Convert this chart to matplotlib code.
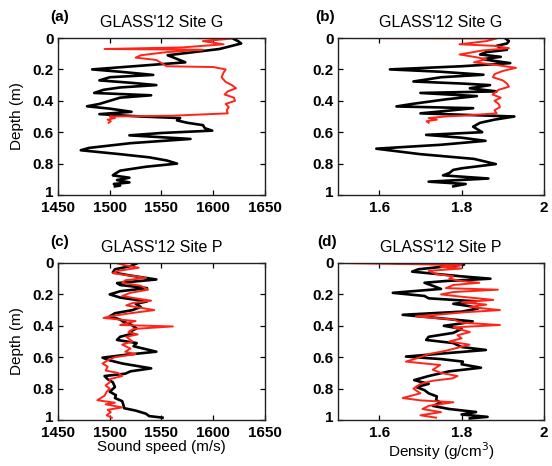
import matplotlib
matplotlib.use("Agg")
import matplotlib.pyplot as plt
from matplotlib.ticker import FixedLocator, FixedFormatter

plt.rcParams['font.family'] = ['Liberation Sans', 'DejaVu Sans']

# ---------------- data ----------------
# Panel (a): Site G sound speed (m/s)
a_black_depth = [0.0, 0.02, 0.035, 0.07, 0.11, 0.12, 0.155, 0.20, 0.215, 0.235, 0.25, 0.27, 0.285,
                 0.30, 0.315, 0.33, 0.35, 0.365, 0.38, 0.40, 0.42, 0.435, 0.45, 0.47, 0.485, 0.50,
                 0.51, 0.525, 0.54, 0.555, 0.575, 0.59, 0.605, 0.62, 0.643, 0.67, 0.70, 0.715, 0.74,
                 0.76, 0.78, 0.80, 0.82, 0.845, 0.865, 0.875, 0.89, 0.905, 0.92, 0.93, 0.94, 0.945]
a_black_speed = [1618, 1624, 1627, 1606, 1556, 1560, 1573, 1483, 1510, 1542, 1500, 1490, 1520,
                 1545, 1510, 1494, 1485, 1540, 1510, 1500, 1490, 1478, 1500, 1521, 1490, 1530,
                 1568, 1565, 1575, 1590, 1592, 1599, 1550, 1519, 1578, 1520, 1480, 1472, 1510,
                 1538, 1555, 1565, 1535, 1510, 1505, 1503, 1519, 1507, 1519, 1504, 1510, 1505]
a_red_depth = [0.0, 0.004, 0.02, 0.04, 0.06, 0.07, 0.075, 0.09, 0.11, 0.125, 0.14, 0.16, 0.18,
               0.185, 0.20, 0.22, 0.25, 0.28, 0.30, 0.32, 0.34, 0.36, 0.38, 0.40, 0.42, 0.44,
               0.46, 0.48, 0.495, 0.50, 0.51, 0.52, 0.53, 0.54]
a_red_speed = [1572, 1618, 1590, 1610, 1570, 1495, 1590, 1555, 1530, 1525, 1545, 1550, 1555,
               1600, 1612, 1610, 1608, 1612, 1618, 1622, 1614, 1611, 1620, 1621, 1612, 1615,
               1613, 1614, 1560, 1500, 1505, 1498, 1501, 1499]

# Panel (b): Site G density (g/cm3)
b_black_depth = [0.0, 0.02, 0.035, 0.05, 0.075, 0.09, 0.105, 0.12, 0.135, 0.16, 0.18, 0.20, 0.215,
                 0.234, 0.25, 0.277, 0.29, 0.30, 0.32, 0.34, 0.35, 0.37, 0.39, 0.42, 0.436, 0.447,
                 0.465, 0.48, 0.50, 0.52, 0.54, 0.565, 0.60, 0.617, 0.635, 0.655, 0.68, 0.705,
                 0.74, 0.77, 0.803, 0.83, 0.84, 0.86, 0.875, 0.895, 0.915, 0.93, 0.945]
b_black_dens = [1.905, 1.915, 1.91, 1.885, 1.91, 1.86, 1.845, 1.895, 1.85, 1.918, 1.80, 1.626, 1.75,
                1.853, 1.75, 1.683, 1.80, 1.869, 1.82, 1.885, 1.70, 1.837, 1.764, 1.68, 1.642, 1.828,
                1.76, 1.70, 1.928, 1.88, 1.845, 1.828, 1.85, 1.714, 1.80, 1.858, 1.75, 1.593,
                1.70, 1.83, 1.883, 1.80, 1.78, 1.77, 1.755, 1.865, 1.72, 1.81, 1.78]
b_red_depth = [0.0, 0.003, 0.02, 0.04, 0.05, 0.065, 0.08, 0.105, 0.12, 0.135, 0.155, 0.17, 0.19,
               0.21, 0.23, 0.25, 0.27, 0.29, 0.31, 0.33, 0.36, 0.38, 0.40, 0.42, 0.44, 0.46, 0.48,
               0.495, 0.50, 0.51, 0.52, 0.53, 0.54]
b_red_dens = [1.50, 1.885, 1.86, 1.795, 1.88, 1.915, 1.85, 1.795, 1.83, 1.86, 1.83, 1.88, 1.932,
              1.90, 1.88, 1.876, 1.90, 1.91, 1.915, 1.89, 1.875, 1.895, 1.88, 1.89, 1.893, 1.88, 1.885,
              1.80, 1.76, 1.72, 1.74, 1.715, 1.72]

# Panel (c): Site P sound speed (m/s)
c_black_depth = [0.0, 0.02, 0.04, 0.06, 0.08, 0.105, 0.128, 0.14, 0.16, 0.18, 0.20, 0.22, 0.245,
                 0.26, 0.28, 0.30, 0.32, 0.34, 0.36, 0.374, 0.39, 0.417, 0.435, 0.45, 0.47, 0.49,
                 0.51, 0.53, 0.565, 0.585, 0.603, 0.62, 0.64, 0.671, 0.69, 0.705, 0.72, 0.74, 0.76,
                 0.79, 0.82, 0.842, 0.86, 0.88, 0.90, 0.925, 0.94, 0.96, 0.975, 0.985]
c_black_speed = [1527, 1520, 1505, 1503, 1520, 1545, 1507, 1510, 1536, 1510, 1500, 1510, 1536,
                 1525, 1530, 1522, 1505, 1500, 1510, 1513, 1520, 1526, 1520, 1522, 1510, 1507,
                 1526, 1523, 1545, 1515, 1493, 1500, 1512, 1540, 1520, 1515, 1495, 1498, 1503,
                 1505, 1500, 1506, 1505, 1512, 1513, 1514, 1525, 1535, 1538, 1551]
c_red_depth = [0.0, 0.015, 0.03, 0.05, 0.065, 0.08, 0.095, 0.11, 0.126, 0.145, 0.17, 0.19, 0.21,
               0.225, 0.24, 0.255, 0.27, 0.285, 0.30, 0.32, 0.34, 0.35, 0.37, 0.385, 0.395, 0.404,
               0.42, 0.44, 0.455, 0.47, 0.49, 0.50, 0.52, 0.545, 0.565, 0.58, 0.60, 0.62, 0.64,
               0.66, 0.685, 0.70, 0.72, 0.74, 0.76, 0.78, 0.80, 0.82, 0.845, 0.874, 0.89, 0.90,
               0.92, 0.935, 0.95, 0.97, 0.985]
c_red_speed = [1506, 1515, 1528, 1508, 1503, 1520, 1535, 1515, 1512, 1530, 1537, 1520, 1512,
               1525, 1540, 1522, 1516, 1530, 1543, 1520, 1500, 1494, 1525, 1515, 1510, 1561,
               1523, 1518, 1527, 1516, 1520, 1522, 1512, 1520, 1515, 1525, 1505, 1498, 1493,
               1498, 1496, 1508, 1512, 1500, 1500, 1496, 1500, 1497, 1495, 1488, 1505, 1496,
               1512, 1498, 1501, 1497, 1502]

# Panel (d): Site P density (g/cm3)
d_black_depth = [0.0, 0.01, 0.025, 0.04, 0.055, 0.07, 0.085, 0.10, 0.115, 0.126, 0.145, 0.165,
                 0.19, 0.21, 0.225, 0.244, 0.26, 0.275, 0.29, 0.31, 0.33, 0.35, 0.372, 0.385,
                 0.40, 0.42, 0.445, 0.47, 0.49, 0.51, 0.535, 0.554, 0.575, 0.596, 0.612, 0.628,
                 0.645, 0.667, 0.69, 0.72, 0.746, 0.77, 0.79, 0.81, 0.83, 0.85, 0.874, 0.89,
                 0.91, 0.93, 0.949, 0.965, 0.98, 0.99]
d_black_dens = [1.64, 1.806, 1.75, 1.695, 1.68, 1.74, 1.80, 1.87, 1.76, 1.71, 1.73, 1.75,
                1.633, 1.71, 1.72, 1.835, 1.78, 1.82, 1.84, 1.80, 1.657, 1.74, 1.827, 1.80,
                1.757, 1.80, 1.78, 1.72, 1.714, 1.78, 1.80, 1.859, 1.76, 1.665, 1.75, 1.803,
                1.80, 1.847, 1.77, 1.72, 1.685, 1.72, 1.69, 1.71, 1.72, 1.74, 1.738, 1.75,
                1.73, 1.77, 1.835, 1.80, 1.863, 1.82]
d_red_depth = [0.0, 0.005, 0.012, 0.025, 0.035, 0.05, 0.07, 0.085, 0.10, 0.115, 0.126, 0.14,
               0.16, 0.17, 0.185, 0.20, 0.215, 0.235, 0.25, 0.265, 0.28, 0.30, 0.315, 0.33,
               0.34, 0.36, 0.38, 0.395, 0.41, 0.425, 0.44, 0.46, 0.48, 0.50, 0.52, 0.54, 0.56,
               0.58, 0.60, 0.628, 0.65, 0.68, 0.70, 0.72, 0.735, 0.75, 0.77, 0.80, 0.83, 0.86,
               0.875, 0.887, 0.91, 0.93, 0.95, 0.97, 0.985]
d_red_dens = [1.50, 1.62, 1.80, 1.75, 1.80, 1.72, 1.738, 1.78, 1.77, 1.80, 1.843, 1.78,
              1.762, 1.888, 1.78, 1.75, 1.80, 1.877, 1.80, 1.86, 1.82, 1.893, 1.80, 1.74,
              1.689, 1.78, 1.80, 1.893, 1.78, 1.80, 1.82, 1.79, 1.80, 1.77, 1.819, 1.79, 1.76,
              1.72, 1.70, 1.665, 1.748, 1.73, 1.75, 1.79, 1.778, 1.73, 1.70, 1.683, 1.70, 1.657,
              1.70, 1.78, 1.72, 1.705, 1.75, 1.70, 1.738]

titles = ["GLASS'12 Site G", "GLASS'12 Site G", "GLASS'12 Site P", "GLASS'12 Site P"]
panel_labels = ["(a)", "(b)", "(c)", "(d)"]
speed_ticks = [1450, 1500, 1550, 1600, 1650]
speed_ticklabels = ["1450", "1500", "1550", "1600", "1650"]
dens_ticks = [1.6, 1.8, 2.0]
dens_ticklabels = ["1.6", "1.8", "2"]
depth_ticks = [0, 0.2, 0.4, 0.6, 0.8, 1.0]
depth_ticklabels = ["0", "0.2", "0.4", "0.6", "0.8", "1"]

# ---------------- figure ----------------
W, H = 552, 466
fig = plt.figure(figsize=(W / 100, H / 100), dpi=100)

def ax_at(x0, y0, x1, y1):
    return fig.add_axes([x0 / W, 1 - y1 / H, (x1 - x0) / W, (y1 - y0) / H])

axes = [ax_at(58, 38, 265, 195), ax_at(338, 38, 544, 195),
        ax_at(58, 263, 265, 420), ax_at(338, 263, 544, 420)]

series = [
    (a_black_speed, a_black_depth, a_red_speed, a_red_depth),
    (b_black_dens, b_black_depth, b_red_dens, b_red_depth),
    (c_black_speed, c_black_depth, c_red_speed, c_red_depth),
    (d_black_dens, d_black_depth, d_red_dens, d_red_depth),
]

for i, ax in enumerate(axes):
    bx, by, rx, ry = series[i]
    ax.plot(bx, by, color='black', lw=1.9, solid_joinstyle='round')
    ax.plot(rx, ry, color='#ff2418', lw=1.4, solid_joinstyle='round')
    ax.set_ylim(1, 0)
    if i % 2 == 0:
        ax.set_xlim(1450, 1650)
        ax.xaxis.set_major_locator(FixedLocator(speed_ticks))
        ax.xaxis.set_major_formatter(FixedFormatter(speed_ticklabels))
        ax.set_ylabel("Depth (m)", fontsize=11, labelpad=6)
    else:
        ax.set_xlim(1.5, 2.0)
        ax.xaxis.set_major_locator(FixedLocator(dens_ticks))
        ax.xaxis.set_major_formatter(FixedFormatter(dens_ticklabels))
    # all depth labels except the last one go on regular ticks;
    # the bottom "1" is drawn nudged up a little so it clears the x labels
    ax.yaxis.set_major_locator(FixedLocator(depth_ticks))
    ax.yaxis.set_major_formatter(FixedFormatter(depth_ticklabels[:-1] + [""]))
    ax.annotate(depth_ticklabels[-1], xy=(0, depth_ticks[-1]),
                xycoords=('axes fraction', 'data'), xytext=(-3, 2.5),
                textcoords='offset points', ha='right', va='center_baseline',
                fontsize=11, fontweight='bold', annotation_clip=False)
    ax.tick_params(direction='in', top=True, right=True, length=3.5, width=0.9,
                   labelsize=11)
    ax.tick_params(axis='y', pad=3)
    ax.tick_params(axis='x', pad=4.5)
    for lab in ax.get_xticklabels() + ax.get_yticklabels():
        lab.set_fontweight('bold')
    for sp in ax.spines.values():
        sp.set_linewidth(1.0)
        sp.set_color('#222222')
    ax.set_title(titles[i], fontsize=11.5, pad=8)

axes[2].set_xlabel("Sound speed (m/s)", fontsize=11, labelpad=0)
axes[3].set_xlabel("Density (g/cm$^3$)", fontsize=11, labelpad=0)

# panel letters
for (px, py), lab in zip([(50, 17), (315, 17), (50, 242), (317, 242)], panel_labels):
    fig.text(px / W, 1 - py / H, lab, fontsize=11, fontweight='bold', ha='left', va='center')

fig.savefig("out.png", dpi=100)
